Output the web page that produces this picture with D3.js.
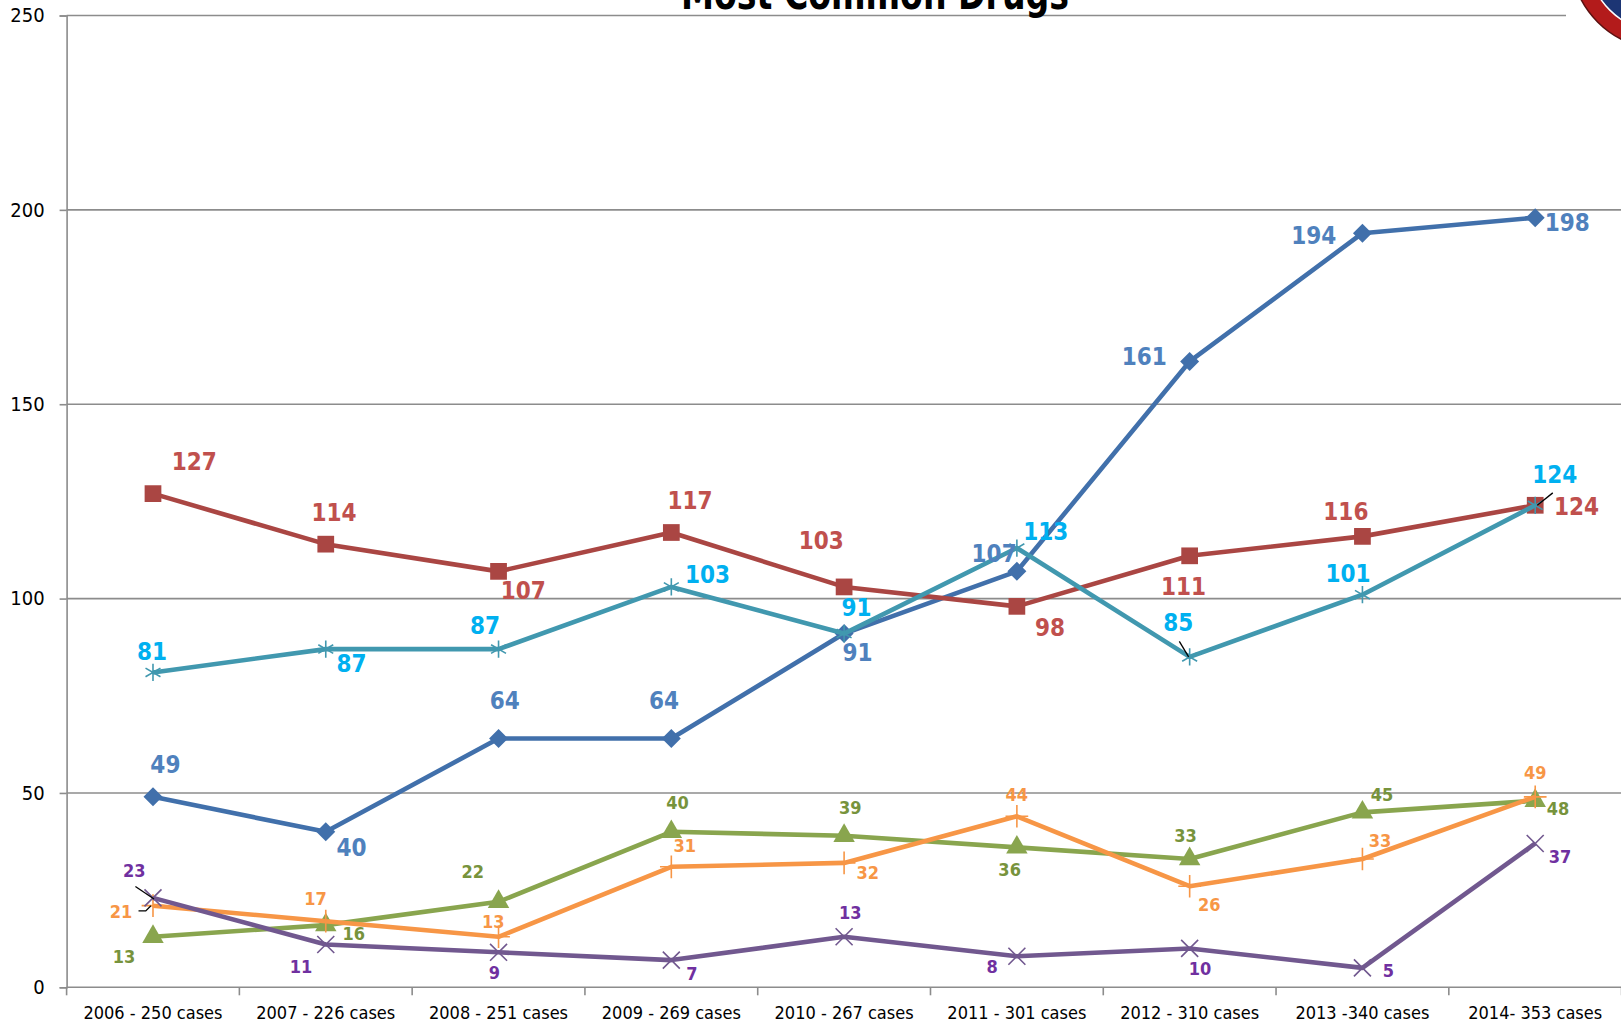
<meta charset="utf-8">
<style>
	body { margin: 0; background: #fff; }
	svg { display: block; font-family: "Liberation Sans Narrow", "DejaVu Sans Condensed", "Liberation Sans", sans-serif; }
</style>
<svg width="1621" height="1027" id="chart"></svg>
<script src="https://cdn.jsdelivr.net/npm/d3@7"></script>
<script>
	var categories = ["2006 - 250 cases", "2007 - 226 cases", "2008 - 251 cases", "2009 - 269 cases",
		"2010 - 267 cases", "2011 - 301 cases", "2012 - 310 cases", "2013 -340 cases", "2014- 353 cases"];
	var yTicks = [0, 50, 100, 150, 200, 250];

	var blueValues   = [49, 40, 64, 64, 91, 107, 161, 194, 198];
	var redValues    = [127, 114, 107, 117, 103, 98, 111, 116, 124];
	var tealValues   = [81, 87, 87, 103, 91, 113, 85, 101, 124];
	var greenValues  = [13, 16, 22, 40, 39, 36, 33, 45, 48];
	var orangeValues = [21, 17, 13, 31, 32, 44, 26, 33, 49];
	var purpleValues = [23, 11, 9, 7, 13, 8, 10, 5, 37];

	// label offsets from the point (measured on a 1568 wide copy, scaled below)
	var k = 1621 / 1568;
	var blueOff   = [[12,-31],[25,15],[6,-37],[-7,-37],[13,18],[-22,-17],[-44,-5],[-47,2],[31,5]];
	var redOff    = [[40,-31],[8,-31],[24,19],[18,-31],[-22,-45],[32,21],[-6,30],[-16,-24],[40,1]];
	var tealOff   = [[-1,-20],[25,14],[-13,-23],[35,-12],[12,-25],[28,-16],[-11,-33],[-14,-20],[19,-30]];
	var greenOff  = [[-28,19],[27,8],[-25,-29],[6,-28],[6,-27],[-7,22],[-4,-23],[19,-17],[22,8]];
	var orangeOff = [[-31,6],[-10,-22],[-5,-15],[13,-20],[23,9],[0,-21],[19,18],[17,-18],[0,-23]];
	var purpleOff = [[-18,-26],[-24,21],[-4,20],[20,13],[6,-23],[-24,10],[10,20],[25,3],[24,13]];

	// leader lines: series, point index, path relative to the point
	var leaders = [
		{series: "purple", i: 0, pts: [[-17,-11],[1,1]]},
		{series: "orange", i: 0, pts: [[-14,5],[-7,5],[-2,0]]},
		{series: "teal", i: 6, pts: [[-10,-15],[-1,0]]},
		{series: "teal", i: 8, pts: [[17,-12],[2,0]]}
	];

	var series = [
		{name: "blue",   values: blueValues,   off: blueOff,   line: "#4170ab", label: "#4f81bd", symbol: d3.symbolDiamond2, size: 230, fill: true, big: true},
		{name: "red",    values: redValues,    off: redOff,    line: "#aa4643", label: "#c0504d", symbol: d3.symbolSquare, size: 280, fill: true, big: true},
		{name: "green",  values: greenValues,  off: greenOff,  line: "#89a54e", label: "#77933c", symbol: d3.symbolTriangle, size: 200, fill: true, big: false},
		{name: "orange", values: orangeValues, off: orangeOff, line: "#f79646", label: "#f79646", symbol: d3.symbolPlus, size: 170, fill: false, big: false},
		{name: "purple", values: purpleValues, off: purpleOff, line: "#71588f", label: "#7030a0", symbol: d3.symbolTimes, size: 190, fill: false, big: false},
		{name: "teal",   values: tealValues,   off: tealOff,   line: "#4198af", label: "#00b0f0", symbol: d3.symbolAsterisk, size: 210, fill: false, big: true}
	];

	var svg = d3.select("#chart");
	var plotLeft = 66.6, plotRight = 1621.6, plotTop = 15.5, plotBottom = 987.3;

	var x = d3.scalePoint().domain(categories).range([plotLeft, plotRight]).padding(0.5);
	var band = (plotRight - plotLeft) / categories.length;
	var y = d3.scaleLinear().domain([0, 250]).range([plotBottom, plotTop]);

	// gridlines
	svg.append("g").selectAll("line")
		.data(yTicks.filter(function(d) { return d > 0; }))
		.enter().append("line")
		.attr("x1", plotLeft).attr("x2", function(d) { return d == 250 ? 1566 : 1621; })
		.attr("y1", function(d) { return y(d); }).attr("y2", function(d) { return y(d); })
		.attr("stroke", "#8c8c8c").attr("stroke-width", 1.6);

	// y axis
	var yAxis = svg.append("g")
		.attr("transform", "translate(" + plotLeft + ",0)")
		.call(d3.axisLeft(y).tickValues(yTicks).tickSize(7).tickPadding(15));
	yAxis.select(".domain").attr("stroke", "#8c8c8c").attr("stroke-width", 1.6);
	yAxis.selectAll(".tick line").attr("stroke", "#8c8c8c").attr("stroke-width", 1.6);
	yAxis.selectAll("text").attr("font-size", 20).attr("fill", "#000")
		.attr("font-family", "'Liberation Sans Narrow', 'DejaVu Sans Condensed', sans-serif");

	// x axis
	var xAxis = svg.append("g").attr("transform", "translate(0," + plotBottom + ")");
	xAxis.append("line").attr("x1", plotLeft).attr("x2", 1621).attr("stroke", "#8c8c8c").attr("stroke-width", 1.6);
	xAxis.selectAll(".xt").data(d3.range(categories.length + 1)).enter().append("line")
		.attr("x1", function(i) { return plotLeft + i * band; }).attr("x2", function(i) { return plotLeft + i * band; })
		.attr("y1", 0).attr("y2", 8).attr("stroke", "#8c8c8c").attr("stroke-width", 1.6);
	xAxis.selectAll("text").data(categories).enter().append("text")
		.attr("x", function(d) { return x(d); }).attr("y", 32)
		.attr("text-anchor", "middle").attr("font-size", 18).attr("fill", "#000")
		.text(function(d) { return d; });

	// lines and markers
	var line = d3.line()
		.x(function(d, i) { return x(categories[i]); })
		.y(function(d) { return y(d); });

	series.forEach(function(s) {
		var g = svg.append("g");
		g.append("path").datum(s.values)
			.attr("d", line).attr("fill", "none")
			.attr("stroke", s.line).attr("stroke-width", 4.6).attr("stroke-linejoin", "round");
		g.selectAll("path.m").data(s.values).enter().append("path")
			.attr("class", "m")
			.attr("transform", function(d, i) { return "translate(" + x(categories[i]) + "," + y(d) + ")"; })
			.attr("d", d3.symbol().type(s.symbol).size(s.size))
			.attr("fill", s.fill ? s.line : "none")
			.attr("stroke", s.line).attr("stroke-width", s.fill ? 0 : 1.6);
	});

	// leader lines
	var byName = {};
	series.forEach(function(s) { byName[s.name] = s; });
	leaders.forEach(function(l) {
		var s = byName[l.series];
		var px = x(categories[l.i]), py = y(s.values[l.i]);
		svg.append("path")
			.attr("d", d3.line()(l.pts.map(function(p) { return [px + p[0] * k, py + p[1] * k]; })))
			.attr("fill", "none").attr("stroke", "#000").attr("stroke-width", 1.3);
	});

	// data labels
	series.forEach(function(s) {
		svg.append("g").selectAll("text").data(s.values).enter().append("text")
			.attr("x", function(d, i) { return x(categories[i]) + s.off[i][0] * k; })
			.attr("y", function(d, i) { return y(d) + s.off[i][1] * k; })
			.attr("dy", "0.35em")
			.attr("text-anchor", "middle")
			.attr("font-weight", "bold")
			.attr("font-size", s.big ? 24 : 18)
			.attr("fill", s.label)
			.text(function(d) { return d; });
	});

	// title (cut off at the top, as in the source)
	svg.append("text")
		.attr("x", 875).attr("y", 9)
		.attr("text-anchor", "middle").attr("font-weight", "bold").attr("font-size", 44)
		.attr("textLength", 388).attr("lengthAdjust", "spacingAndGlyphs")
		.text("Most Common Drugs");

	// logo corner
	var logo = svg.append("g");
	logo.append("circle").attr("cx", 1665).attr("cy", -45).attr("r", 95).attr("fill", "#b31b1b").attr("stroke", "#5a1010").attr("stroke-width", 1.5);
	logo.append("circle").attr("cx", 1665).attr("cy", -45).attr("r", 78).attr("fill", "#1c3574").attr("stroke", "#fff").attr("stroke-width", 1.5);
</script>
